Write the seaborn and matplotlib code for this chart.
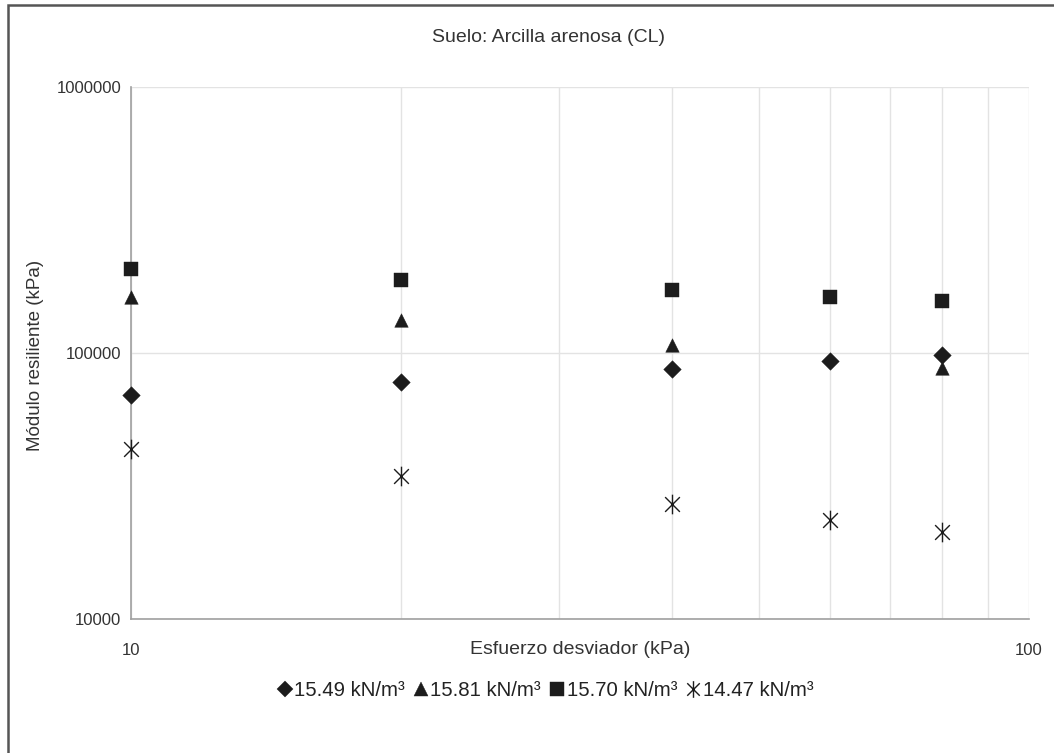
import numpy as np
import pandas as pd
import matplotlib
matplotlib.use("Agg")
import matplotlib.pyplot as plt
from matplotlib.path import Path
from matplotlib.lines import Line2D
from matplotlib.patches import Rectangle
from matplotlib.ticker import LogLocator, FixedLocator, NullFormatter, FixedFormatter
import seaborn as sns

# ---- data ----
esfuerzo = [10, 20, 40, 60, 80]
s1549 = [69500, 77800, 87400, 93300, 98300]
s1581 = [162800, 133000, 107100, np.nan, 87900]
s1570 = [206500, 188000, 172500, 162800, 157300]
s1447 = [43600, 34500, 27100, 23600, 21200]
series_labels = ["15.49 kN/m³", "15.81 kN/m³", "15.70 kN/m³", "14.47 kN/m³"]
title = "Suelo: Arcilla arenosa (CL)"
xlabel = "Esfuerzo desviador (kPa)"
ylabel = "Módulo resiliente (kPa)"
yticks = [10000, 100000, 1000000]
xticks = [10, 100]

sns.set_theme(style="white")
plt.rcParams['font.family'] = ['Liberation Sans', 'DejaVu Sans']

df = pd.DataFrame({
    "x": esfuerzo * 4,
    "y": s1549 + s1581 + s1570 + s1447,
    "serie": sum([[lab] * len(esfuerzo) for lab in series_labels], []),
}).dropna()

star = Path([(0, -1), (0, 1), (-0.75, -0.75), (0.75, 0.75), (-0.75, 0.75), (0.75, -0.75)],
            [Path.MOVETO, Path.LINETO, Path.MOVETO, Path.LINETO, Path.MOVETO, Path.LINETO])
markers = {series_labels[0]: "D", series_labels[1]: "^", series_labels[2]: "s", series_labels[3]: star}
sizes = {series_labels[0]: 80, series_labels[1]: 95, series_labels[2]: 105, series_labels[3]: 200}

fig = plt.figure(figsize=(10.54, 7.53), dpi=100)
ax = fig.add_axes([131 / 1054, 1 - 619 / 753, (1029 - 131) / 1054, (619 - 87) / 753])

mc = "#1c1c1c"
for lab in series_labels:
    sub = df[df["serie"] == lab]
    lw = 1.0 if lab == series_labels[3] else 0.3
    sns.scatterplot(data=sub, x="x", y="y", marker=markers[lab], s=sizes[lab],
                    color=mc, edgecolor=mc, linewidth=lw, ax=ax, zorder=3,
                    legend=False, clip_on=False)

ax.set_xscale("log")
ax.set_yscale("log")
ax.set_xlim(10, 100)
ax.set_ylim(10000, 1000000)

ax.xaxis.set_major_locator(FixedLocator(xticks))
ax.xaxis.set_major_formatter(FixedFormatter([str(v) for v in xticks]))
ax.xaxis.set_minor_locator(LogLocator(base=10, subs=np.arange(2, 10)))
ax.xaxis.set_minor_formatter(NullFormatter())
ax.yaxis.set_major_locator(FixedLocator(yticks))
ax.yaxis.set_major_formatter(FixedFormatter([str(v) for v in yticks]))
ax.yaxis.set_minor_locator(FixedLocator([]))

ax.grid(True, which="major", axis="both", color="#e3e3e3", linewidth=1.0)
ax.grid(True, which="minor", axis="x", color="#e3e3e3", linewidth=1.0)
ax.set_axisbelow(True)

for side in ["top", "right"]:
    ax.spines[side].set_visible(False)
for side in ["left", "bottom"]:
    ax.spines[side].set_color("#a0a0a0")
    ax.spines[side].set_linewidth(1.2)

ax.tick_params(axis="both", which="major", direction="out", length=5, width=1,
               color="#a0a0a0", labelsize=12, labelcolor="#333333")
ax.tick_params(axis="x", which="minor", length=0)
ax.tick_params(axis="x", which="major", pad=12)
ax.tick_params(axis="y", which="major", pad=2)

ax.set_xlabel("")
ax.set_ylabel("")
fig.text(580 / 1054, 1 - 649 / 753, xlabel, ha="center", va="center", fontsize=14, color="#333333")
fig.text(36 / 1054, 1 - 355 / 753, ylabel, ha="center", va="center", rotation=90, fontsize=13.5, color="#333333")
fig.text(549 / 1054, 1 - 38 / 753, title, ha="center", va="center", fontsize=14, color="#333333")

handles = [Line2D([], [], linestyle="none", marker=markers[lab], color=mc, markersize=ms,
                  markeredgewidth=mew)
           for lab, ms, mew in zip(series_labels, [8, 9.5, 9.5, 12], [0.3, 0.3, 0.3, 1.0])]
fig.legend(handles, series_labels, loc="center", bbox_to_anchor=(546 / 1054, 1 - 691 / 753),
           ncol=4, frameon=False, fontsize=14.7, handlelength=0.6, handletextpad=0.15,
           columnspacing=0.5, labelcolor="#222222")

fig.add_artist(Rectangle((8 / 1054, -0.05), 1.2, 1 - 5 / 753 + 0.05, transform=fig.transFigure,
                         fill=False, edgecolor="#555555", linewidth=1.8))

fig.savefig("out.png", dpi=100)
